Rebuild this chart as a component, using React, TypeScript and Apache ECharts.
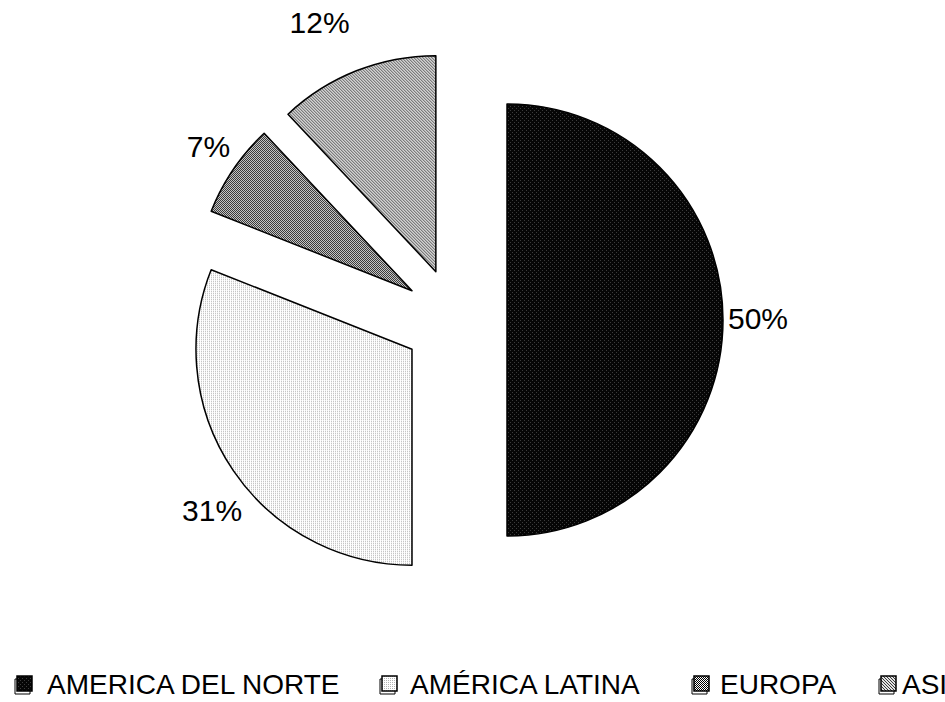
import React, { useEffect, useRef } from "react";
import * as echarts from "echarts";

// ---- data ----
const categories = ["AMERICA DEL NORTE", "AMÉRICA LATINA", "EUROPA", "ASIA"];
const shares = [50, 31, 7, 12];

// ---- layout tweaks (not data) ----
const labelShiftX = [-10, 22, 10, 2];
const labelShiftY = [-2, 34, -17, -39];
const legendIconX = [17, 382, 694, 881];
const legendTextX = [47, 410, 720, 902];

type PatternSpec = { size: number; bg: string; dots: [number, number, string][] };

const patternSpecs: PatternSpec[] = [
  { size: 4, bg: "#060606", dots: [[0, 0, "#3c3c3c"], [2, 2, "#3c3c3c"]] },
  { size: 2, bg: "#ffffff", dots: [[0, 0, "#b4b4b4"]] },
  { size: 2, bg: "#ffffff", dots: [[0, 0, "#000000"], [1, 1, "#000000"]] },
  { size: 3, bg: "#e2e2e2", dots: [[0, 0, "#3a3a3a"], [1, 1, "#3a3a3a"], [2, 2, "#3a3a3a"]] },
];

function makePattern(spec: PatternSpec) {
  const c = document.createElement("canvas");
  c.width = spec.size;
  c.height = spec.size;
  const ctx = c.getContext("2d")!;
  ctx.fillStyle = spec.bg;
  ctx.fillRect(0, 0, spec.size, spec.size);
  spec.dots.forEach(([x, y, col]) => {
    ctx.fillStyle = col;
    ctx.fillRect(x, y, 1, 1);
  });
  return { image: c, repeat: "repeat", imageWidth: spec.size, imageHeight: spec.size } as any;
}

function hasFont(name: string): boolean {
  const c = document.createElement("canvas");
  const ctx = c.getContext("2d")!;
  const sample = "AMERICA DEL NORTE";
  ctx.font = `40px monospace`;
  const a = ctx.measureText(sample).width;
  ctx.font = `40px "${name}", monospace`;
  const b = ctx.measureText(sample).width;
  return Math.abs(a - b) > 0.5;
}

export default function App() {
  const ref = useRef<HTMLDivElement>(null);
  useEffect(() => {
    if (!ref.current) return;
    const chart = echarts.init(ref.current, undefined, { renderer: "svg" });
    const patterns = patternSpecs.map(makePattern);
    const narrow = hasFont("Liberation Sans Narrow");
    const legendFont = narrow ? "Liberation Sans Narrow" : "Liberation Sans, Arial, sans-serif";
    const legendSize = narrow ? 33 : 28;

    const legendGraphics: any[] = [];
    categories.forEach((name, i) => {
      legendGraphics.push({
        type: "rect",
        shape: { x: legendIconX[i] - 2, y: 679, width: 15, height: 15 },
        style: { fill: "#ffffff", stroke: "#000", lineWidth: 1 },
      });
      legendGraphics.push({
        type: "rect",
        shape: { x: legendIconX[i], y: 676, width: 15, height: 15 },
        style: { fill: patterns[i], stroke: "#000", lineWidth: 1.5 },
      });
      legendGraphics.push({
        type: "text",
        x: legendTextX[i],
        y: 684,
        style: {
          text: name,
          fontSize: legendSize,
          fontFamily: legendFont,
          fill: "#000",
          align: "left",
          verticalAlign: "middle",
        },
      });
    });

    chart.setOption({
      animation: false,
      backgroundColor: "#ffffff",
      graphic: legendGraphics,
      series: [
        {
          type: "pie",
          center: [455, 320],
          radius: 216,
          startAngle: 90,
          clockwise: true,
          selectedMode: "multiple",
          selectedOffset: 52,
          avoidLabelOverlap: false,
          label: {
            show: true,
            position: "outside",
            formatter: "{c}%",
            fontSize: 30,
            fontFamily: "Liberation Sans, Arial, sans-serif",
            color: "#000",
          },
          labelLine: { show: false, length: 10, length2: 0 },
          labelLayout: (p: any) => ({ dx: labelShiftX[p.dataIndex], dy: labelShiftY[p.dataIndex] }),
          itemStyle: { borderColor: "#000", borderWidth: 1.5 },
          emphasis: { disabled: true },
          select: { itemStyle: { borderColor: "#000", borderWidth: 1.5 } },
          data: categories.map((name, i) => ({
            name,
            value: shares[i],
            selected: true,
            itemStyle: { color: patterns[i] },
            select: { itemStyle: { color: patterns[i], borderColor: "#000", borderWidth: 1.5 } },
          })),
        },
      ],
    });
    return () => chart.dispose();
  }, []);
  return (
    <div
      ref={ref}
      style={{ position: "fixed", left: 0, top: 0, width: 945, height: 702, background: "#fff" }}
    />
  );
}
